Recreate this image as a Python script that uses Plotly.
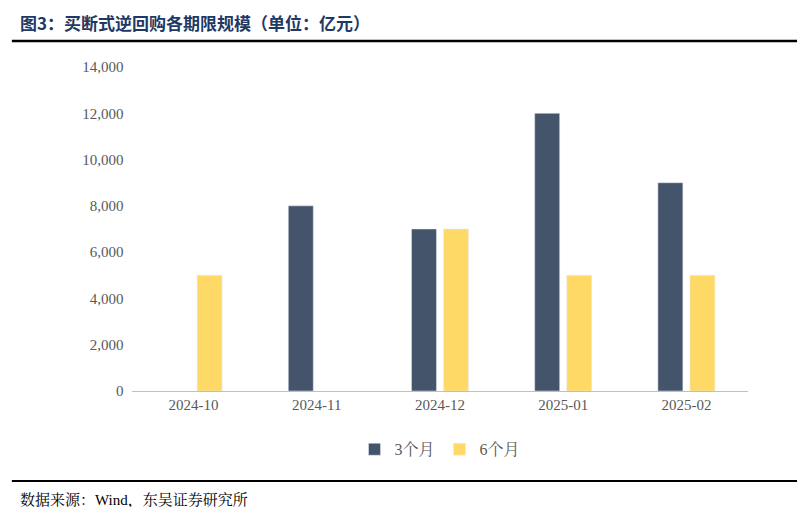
import plotly.graph_objects as go

months = ["2024-10", "2024-11", "2024-12", "2025-01", "2025-02"]
m3 = [None, 8000, 7000, 12000, 9000]
m6 = [5000, None, 7000, 5000, 5000]

serif = "Times New Roman, Liberation Serif, Noto Serif CJK SC, serif"

fig = go.Figure()
fig.add_trace(go.Bar(x=months, y=m3, name="3个月", marker_color="#44546A"))
fig.add_trace(go.Bar(x=months, y=m6, name="6个月", marker_color="#FFD966"))

fig.update_layout(
    width=805, height=507,
    margin=dict(l=124, r=65, t=59, b=124, autoexpand=False),
    paper_bgcolor="white", plot_bgcolor="white",
    barmode="group", bargap=0.48, bargroupgap=0.22,
    font=dict(family=serif, size=15, color="#595959"),
    legend=dict(orientation="h", x=0.5, xanchor="center", y=-0.18, yanchor="middle",
                font=dict(size=16), itemwidth=30),
    showlegend=True,
)
fig.update_xaxes(type="category", automargin=False, showline=True, linecolor="#BFBFBF",
                 ticks="", tickfont=dict(size=15, color="#595959"))
fig.update_yaxes(range=[0, 14000], dtick=2000, tickformat=",", showgrid=False, automargin=False,
                 tickfont=dict(size=15, color="#595959"), ticksuffix="  ")

fig.add_annotation(xref="paper", yref="paper", x=-0.185, y=1.136, xanchor="left", yanchor="middle",
                   text="<b>图3：买断式逆回购各期限规模（单位：亿元）</b>", showarrow=False,
                   font=dict(size=17, color="#1F3864", family="Noto Sans CJK SC"))
fig.add_shape(type="line", xref="paper", yref="paper", x0=-0.195, x1=1.105, y0=1.08, y1=1.08,
              line=dict(color="black", width=2.5))
fig.add_shape(type="line", xref="paper", yref="paper", x0=-0.195, x1=1.105, y0=-0.278, y1=-0.278,
              line=dict(color="black", width=2))
fig.add_annotation(xref="paper", yref="paper", x=-0.185, y=-0.336, xanchor="left", yanchor="middle",
                   text="数据来源：Wind，东吴证券研究所", showarrow=False,
                   font=dict(size=15, color="black", family=serif))

fig.write_html("out.html")
